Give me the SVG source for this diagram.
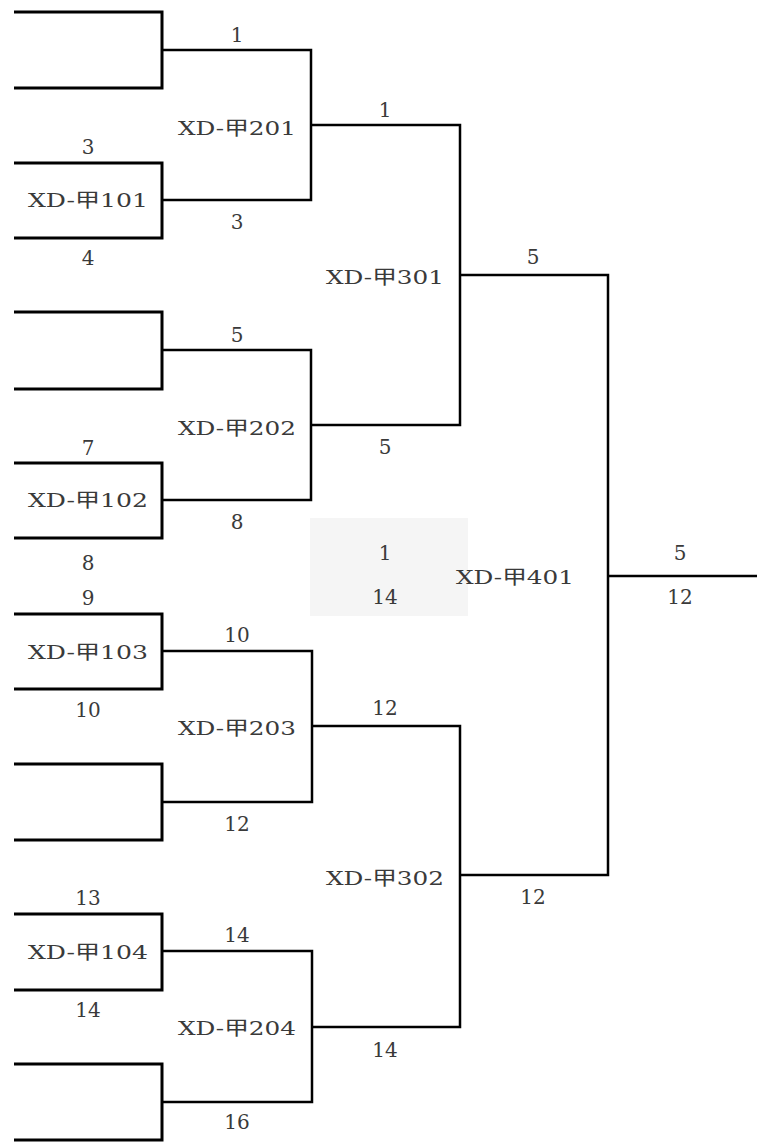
<svg xmlns="http://www.w3.org/2000/svg" width="760" height="1145" viewBox="0 0 760 1145">
<style>
.t{font-family:"DejaVu Serif","Liberation Serif","Noto Sans CJK SC",serif;font-size:20px;fill:#3a3a3a;text-anchor:middle}
.m{font-size:19px}
.w{fill:none;stroke:#000;stroke-width:3}
.c{fill:none;stroke:#000;stroke-width:2.5}
</style>
<rect width="760" height="1145" fill="#fff"/>
<rect x="310" y="518" width="158" height="98" fill="#f5f5f5"/>
<g id="connectors">
<path class="w" d="M14,12 H162 V88 H14"/>
<path class="w" d="M14,163 H162 V238 H14"/>
<path class="w" d="M14,312 H162 V389 H14"/>
<path class="w" d="M14,463 H162 V538 H14"/>
<path class="w" d="M14,614 H162 V689 H14"/>
<path class="w" d="M14,764 H162 V840 H14"/>
<path class="w" d="M14,914 H162 V990 H14"/>
<path class="w" d="M14,1064 H162 V1140 H14"/>
<path class="c" d="M162,50 H311 V200 H162"/>
<path class="c" d="M162,350 H311 V500 H162"/>
<path class="c" d="M162,651 H312 V802 H162"/>
<path class="c" d="M162,951 H312 V1102 H162"/>
<path class="c" d="M311,125 H460 V425 H311"/>
<path class="c" d="M312,726 H460 V1027 H312"/>
<path class="c" d="M460,275 H608 V875 H460"/>
<path class="c" d="M608,576 H757"/>
</g>
<g id="XD-101">
<text class="t" x="88" y="154">3</text>
<text class="t m" x="88" y="207" textLength="120" lengthAdjust="spacingAndGlyphs">XD-甲101</text>
<text class="t" x="88" y="265">4</text>
</g>
<g id="XD-102">
<text class="t" x="88" y="455">7</text>
<text class="t m" x="88" y="507" textLength="120" lengthAdjust="spacingAndGlyphs">XD-甲102</text>
<text class="t" x="88" y="570">8</text>
</g>
<g id="XD-103">
<text class="t" x="88" y="605">9</text>
<text class="t m" x="88" y="659" textLength="120" lengthAdjust="spacingAndGlyphs">XD-甲103</text>
<text class="t" x="88" y="717">10</text>
</g>
<g id="XD-104">
<text class="t" x="88" y="905">13</text>
<text class="t m" x="88" y="959" textLength="120" lengthAdjust="spacingAndGlyphs">XD-甲104</text>
<text class="t" x="88" y="1017">14</text>
</g>
<g id="XD-201">
<text class="t" x="237" y="42">1</text>
<text class="t m" x="237" y="135" textLength="118" lengthAdjust="spacingAndGlyphs">XD-甲201</text>
<text class="t" x="237" y="229">3</text>
</g>
<g id="XD-202">
<text class="t" x="237" y="342">5</text>
<text class="t m" x="237" y="435" textLength="118" lengthAdjust="spacingAndGlyphs">XD-甲202</text>
<text class="t" x="237" y="529">8</text>
</g>
<g id="XD-203">
<text class="t" x="237" y="642">10</text>
<text class="t m" x="237" y="735" textLength="118" lengthAdjust="spacingAndGlyphs">XD-甲203</text>
<text class="t" x="237" y="831">12</text>
</g>
<g id="XD-204">
<text class="t" x="237" y="942">14</text>
<text class="t m" x="237" y="1035" textLength="118" lengthAdjust="spacingAndGlyphs">XD-甲204</text>
<text class="t" x="237" y="1129">16</text>
</g>
<g id="XD-301">
<text class="t" x="385" y="117">1</text>
<text class="t m" x="385" y="284" textLength="118" lengthAdjust="spacingAndGlyphs">XD-甲301</text>
<text class="t" x="385" y="454">5</text>
</g>
<g id="XD-302">
<text class="t" x="385" y="715">12</text>
<text class="t m" x="385" y="885" textLength="118" lengthAdjust="spacingAndGlyphs">XD-甲302</text>
<text class="t" x="385" y="1057">14</text>
</g>
<g id="XD-401">
<text class="t" x="533" y="264">5</text>
<text class="t" x="385" y="560">1</text>
<text class="t" x="385" y="604">14</text>
<text class="t m" x="515" y="584" textLength="118" lengthAdjust="spacingAndGlyphs">XD-甲401</text>
<text class="t" x="533" y="904">12</text>
</g>
<g id="final">
<text class="t" x="680" y="560">5</text>
<text class="t" x="680" y="604">12</text>
</g>
</svg>
